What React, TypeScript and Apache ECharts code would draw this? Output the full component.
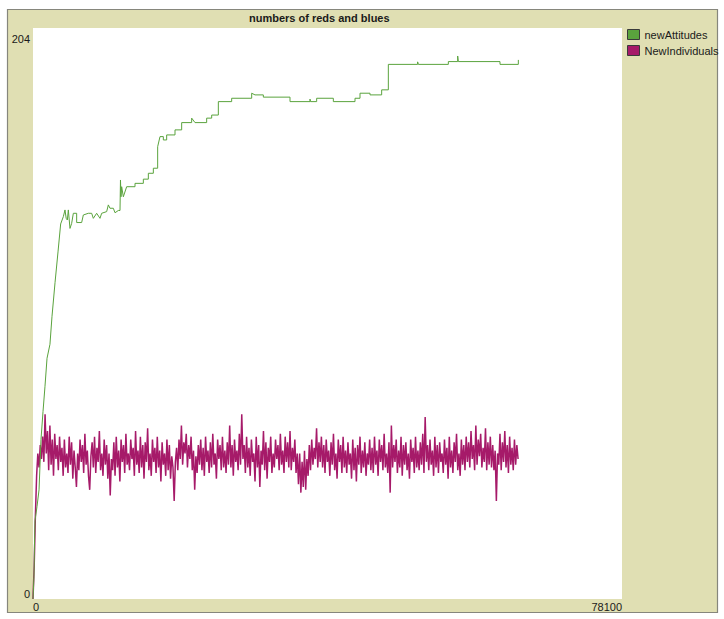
import React, { useEffect, useRef } from "react";
import * as echarts from "echarts";

const TITLE = "numbers of reds and blues";
const SERIES_NAMES = ["newAttitudes", "NewIndividuals"];
const X_MIN = 0;
const X_MAX = 78100;
const Y_MIN = 0;
const Y_MAX = 204;

// newAttitudes (green): [tick, value]
const attitudePoints: [number, number][] = [
  [0, 0], [130, 8], [200, 20], [265, 28], [530, 33], [800, 39], [1060, 57],
  [1330, 67], [1590, 76], [1860, 86], [2250, 91], [2520, 101], [2920, 113],
  [3315, 124], [3669, 134], [4022, 136.6], [4243, 139], [4400, 136],
  [4553, 135.4], [4685, 139], [4906, 132.4], [5127, 134.2], [5348, 137.8],
  [5790, 137.8], [5790, 134.5], [6453, 134.5], [6674, 137.2], [7337, 137.8],
  [7779, 137.8], [8000, 136], [8442, 137.8], [8884, 136], [9105, 137.8],
  [9768, 138.4], [9989, 140.8], [10210, 139.6], [10652, 139.6], [10873, 138],
  [11315, 138.8], [11536, 138.8], [11600, 149.7], [11669, 143.7],
  [11757, 147.3], [11978, 143.7], [12420, 147.3], [13525, 147.3],
  [13525, 148.5], [14630, 148.5], [14630, 150], [15293, 150], [15293, 152.1],
  [15956, 152.1], [15956, 153.9], [16531, 153.9], [16531, 161.6],
  [16840, 165.2], [17282, 165.2], [17282, 164], [17724, 164], [17724, 165.8],
  [18829, 165.8], [18829, 167.6], [19713, 167.6], [19713, 170.2],
  [21039, 170.2], [21039, 171.8], [21481, 170.2], [23028, 170.2],
  [23028, 171.8], [23692, 171.8], [23692, 172.9], [24575, 172.9],
  [24575, 177.7], [26343, 177.7], [26343, 178.9], [28996, 178.9],
  [28996, 180.7], [29437, 180.1], [30542, 180.1], [30542, 179.3],
  [34078, 179.3], [34078, 177.7], [36730, 177.7], [36730, 178.6],
  [36800, 177.7], [37614, 177.7], [37614, 178.9], [39824, 178.9],
  [39824, 177.7], [42697, 177.7], [42697, 178.9], [43360, 178.9],
  [43360, 180.7], [44686, 180.7], [44686, 180.1], [46233, 180.1],
  [46233, 181.9], [47117, 181.9], [47117, 191], [51000, 191], [51000, 191.9],
  [51100, 191], [55073, 191], [55073, 192], [56311, 192], [56311, 194],
  [56400, 192], [61924, 192], [61924, 191], [64355, 191], [64355, 192.6],
];

// NewIndividuals (magenta): one value every INDIVIDUAL_STEP ticks
const INDIVIDUAL_STEP = 160;
const individualValues = [
  0, 12, 30, 44, 52, 47, 55, 50, 58, 49, 66, 52, 60, 46, 62, 48, 57, 44, 59, 50,
  55, 46, 58, 49, 54, 44, 57, 47, 52, 45, 58, 48, 56, 43, 53, 47, 40, 52, 46, 57,
  49, 55, 45, 59, 48, 53, 44, 39, 51, 56, 47, 58, 45, 54, 49, 60, 46, 52, 44, 57,
  48, 55, 43, 52, 37, 50, 46, 56, 44, 58, 47, 53, 42, 57, 49, 55, 45, 59, 48, 52,
  46, 57, 50, 54, 44, 60, 48, 53, 45, 58, 47, 55, 43, 56, 49, 61, 46, 52, 44, 57,
  49, 54, 45, 58, 47, 53, 42, 56, 48, 52, 44, 57, 46, 55, 43, 51, 47, 35, 49, 54,
  46, 57, 50, 62, 48, 56, 52, 59, 47, 55, 50, 58, 46, 53, 39, 51, 45, 55, 48, 57,
  46, 54, 44, 58, 49, 53, 45, 56, 47, 59, 48, 52, 43, 57, 50, 55, 46, 58, 47, 53,
  45, 56, 48, 62, 47, 55, 44, 57, 49, 53, 46, 59, 48, 66, 50, 55, 45, 58, 47, 54,
  44, 57, 49, 52, 42, 58, 47, 55, 40, 53, 48, 60, 46, 56, 43, 54, 49, 58, 45, 52,
  47, 57, 50, 55, 46, 59, 48, 53, 45, 58, 49, 56, 47, 60, 46, 54, 49, 57, 45, 52,
  41, 52, 38, 49, 40, 53, 39, 50, 44, 55, 46, 57, 48, 54, 50, 61, 47, 56, 49, 58,
  47, 55, 45, 57, 49, 53, 44, 56, 48, 59, 46, 52, 43, 57, 49, 55, 45, 58, 47, 53,
  45, 56, 48, 52, 43, 57, 46, 54, 42, 55, 48, 58, 45, 53, 47, 56, 44, 52, 48, 57,
  46, 54, 45, 58, 48, 53, 44, 57, 49, 55, 46, 59, 47, 52, 45, 56, 38, 62, 47, 55,
  49, 57, 45, 53, 47, 58, 44, 55, 48, 56, 46, 52, 43, 57, 49, 54, 45, 58, 47, 53,
  46, 56, 48, 59, 45, 65, 49, 55, 46, 57, 48, 53, 44, 58, 47, 55, 45, 56, 49, 52,
  45, 57, 48, 54, 43, 58, 47, 53, 45, 56, 49, 59, 46, 52, 44, 57, 48, 55, 46, 58,
  49, 56, 47, 60, 50, 55, 46, 62, 48, 57, 51, 59, 47, 54, 49, 61, 46, 56, 48, 58,
  47, 55, 46, 53, 35, 52, 48, 59, 46, 56, 49, 60, 47, 55, 45, 58, 48, 54, 46, 57,
  48, 55, 50,
];

const GREEN = "#5aa33d";
const MAGENTA = "#a61a69";
const BEIGE = "#e0dfb3";
const FONT = "Liberation Sans, Arial, sans-serif";

export default function App() {
  const ref = useRef<HTMLDivElement>(null);

  useEffect(() => {
    if (!ref.current) return;
    const chart = echarts.init(ref.current, null, { renderer: "svg" });
    const individualPoints = individualValues.map((v, i) => [i * INDIVIDUAL_STEP, v]);

    chart.setOption({
      animation: false,
      backgroundColor: "#ffffff",
      textStyle: { fontFamily: FONT },
      graphic: [
        {
          type: "rect",
          z: -10,
          shape: { x: 7.5, y: 9.5, width: 710, height: 603 },
          style: { fill: BEIGE, stroke: "#86867c", lineWidth: 1.2 },
        },
        {
          type: "rect",
          z: -9,
          shape: { x: 33, y: 28, width: 589, height: 571 },
          style: { fill: "#ffffff" },
        },
      ],
      title: {
        text: TITLE,
        left: 249,
        top: 12,
        padding: 0,
        textStyle: { fontSize: 11, fontWeight: "bold", color: "#1a1a1a", fontFamily: FONT },
      },
      legend: {
        orient: "vertical",
        left: 627,
        top: 29,
        padding: 0,
        itemWidth: 12,
        itemHeight: 10,
        itemGap: 5,
        icon: "rect",
        textStyle: { fontSize: 11, color: "#1a1a1a", fontFamily: FONT },
        itemStyle: { borderColor: "#3a3a3a", borderWidth: 1 },
        data: SERIES_NAMES,
      },
      grid: { left: 33, top: 28, width: 589, height: 571, containLabel: false },
      xAxis: {
        type: "value",
        min: X_MIN,
        max: X_MAX,
        interval: X_MAX,
        axisLine: { show: false },
        axisTick: { show: false },
        splitLine: { show: false },
        axisLabel: {
          margin: 2,
          fontSize: 11,
          color: "#1a1a1a",
          fontFamily: FONT,
          alignMinLabel: "left",
          alignMaxLabel: "right",
          formatter: (v: number) => String(v),
        },
      },
      yAxis: {
        type: "value",
        min: Y_MIN,
        max: Y_MAX,
        interval: Y_MAX,
        axisLine: { show: false },
        axisTick: { show: false },
        splitLine: { show: false },
        axisLabel: {
          margin: 3,
          fontSize: 11,
          color: "#1a1a1a",
          fontFamily: FONT,
          verticalAlignMinLabel: "bottom",
          verticalAlignMaxLabel: "top",
          formatter: (v: number) => (v === Y_MAX ? `{top|${v}}` : `${v}`),
          rich: { top: { fontSize: 11, color: "#1a1a1a", fontFamily: FONT, padding: [5, 0, 0, 0] } },
        },
      },
      series: [
        {
          name: SERIES_NAMES[1],
          type: "line",
          data: individualPoints,
          showSymbol: false,
          color: MAGENTA,
          lineStyle: { width: 1.5, color: MAGENTA },
          z: 2,
        },
        {
          name: SERIES_NAMES[0],
          type: "line",
          data: attitudePoints,
          showSymbol: false,
          color: GREEN,
          lineStyle: { width: 1, color: GREEN },
          z: 3,
        },
      ],
    });

    return () => chart.dispose();
  }, []);

  return (
    <div
      ref={ref}
      style={{ position: "fixed", left: 0, top: 0, width: 724, height: 619 }}
    />
  );
}
